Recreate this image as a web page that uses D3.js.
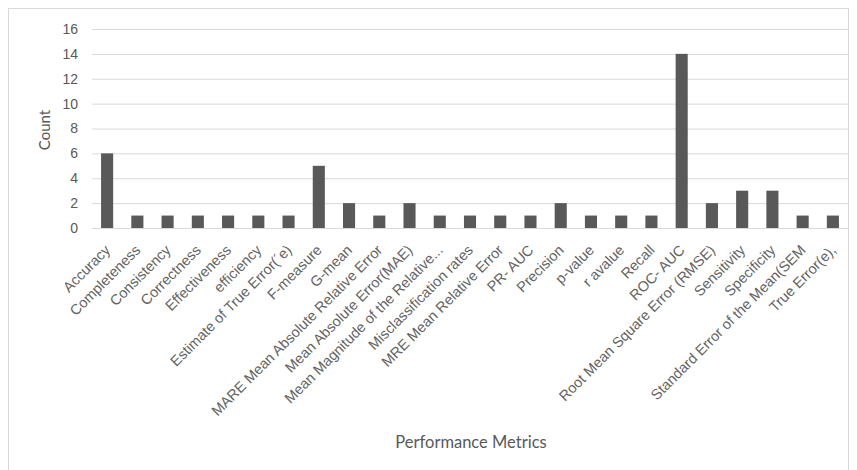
<!DOCTYPE html>
<html>
<head>
<meta charset="utf-8">
<script src="https://cdn.jsdelivr.net/npm/d3@7"></script>
<style>
  html, body { margin: 0; padding: 0; background: #fff; }
  svg { display: block; font-family: Lato, "Open Sans", sans-serif; }
</style>
</head>
<body>
<svg id="chart" width="857" height="470"></svg>
<script>
// Metric names and how many times each one is used
const categories = [
  "Accuracy", "Completeness", "Consistency", "Correctness", "Effectiveness",
  "efficiency", "Estimate of True Error(\u00b4e)", "F-measure", "G-mean",
  "MARE Mean Absolute Relative Error", "Mean Absolute Error(MAE)",
  "Mean Magnitude of the Relative...", "Misclassification rates",
  "MRE Mean  Relative Error", "PR- AUC", "Precision", "p-value", "r avalue",
  "Recall", "ROC- AUC", "Root Mean Square Error (RMSE)", "Sensitivity",
  "Specificity", "Standard Error of the Mean(SEM", "True Error(e),"
];
const counts = [6, 1, 1, 1, 1, 1, 1, 5, 2, 1, 2, 1, 1, 1, 1, 2, 1, 1, 1, 14, 2, 3, 3, 1, 1];
const yTicks = [0, 2, 4, 6, 8, 10, 12, 14, 16];

const svg = d3.select("#chart");
const W = 857, H = 470;
const margin = { left: 92, right: 9, top: 29, bottom: 242 };

// Outer chart frame (its bottom edge runs past the page)
svg.append("rect")
  .attr("x", 8.5).attr("y", 8.5)
  .attr("width", W - 17).attr("height", H + 10)
  .attr("fill", "#fff").attr("stroke", "#d9d9d9").attr("stroke-width", 1);

const x = d3.scaleBand()
  .domain(categories)
  .range([margin.left, W - margin.right])
  .paddingInner(0.6).paddingOuter(0.3);

const y = d3.scaleLinear()
  .domain([0, 16])
  .range([H - margin.bottom, margin.top]);

// Horizontal gridlines with value labels
const yAxis = d3.axisLeft(y).tickValues(yTicks).tickSize(-(W - margin.right - margin.left)).tickPadding(14);
const gy = svg.append("g").attr("transform", `translate(${margin.left},0)`).call(yAxis);
gy.select(".domain").remove();
gy.selectAll(".tick line").attr("stroke", "#d9d9d9").attr("stroke-width", 1);
gy.selectAll(".tick text").attr("fill", "#595959").style("font-size", "14px");

// Bars
svg.append("g").selectAll("rect")
  .data(categories)
  .join("rect")
  .attr("x", d => x(d))
  .attr("width", x.bandwidth())
  .attr("y", (d, i) => y(counts[i]))
  .attr("height", (d, i) => y(0) - y(counts[i]))
  .attr("fill", "#595959");

// Category axis with slanted labels
const xAxis = d3.axisBottom(x).tickSize(0).tickPadding(0);
const gx = svg.append("g").attr("transform", `translate(0,${y(0)})`).call(xAxis);
gx.select(".domain").attr("stroke", "#d9d9d9");
gx.selectAll(".tick text")
  .attr("fill", "#636363")
  .style("font-size", "14.5px")
  .attr("text-anchor", "end")
  .attr("dy", "0")
  .attr("transform", "translate(4,23) rotate(-45)");

// Axis titles
svg.append("text")
  .attr("transform", `translate(50,130) rotate(-90)`)
  .attr("text-anchor", "middle")
  .attr("fill", "#595959")
  .style("font-size", "15px")
  .text("Count");

svg.append("text")
  .attr("x", 471).attr("y", 448)
  .attr("text-anchor", "middle")
  .attr("fill", "#595959")
  .style("font-size", "16.5px")
  .text("Performance Metrics");
</script>
</body>
</html>
